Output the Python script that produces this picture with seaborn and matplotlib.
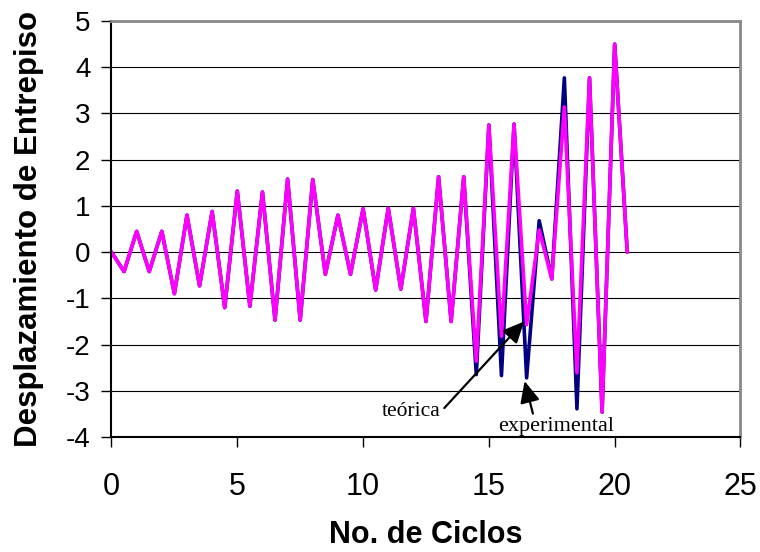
import numpy as np
import pandas as pd
import seaborn as sns
import matplotlib.pyplot as plt

# ciclos (half-cycle steps)
ciclos = [0, 0.5, 1, 1.5, 2, 2.5, 3, 3.5, 4, 4.5, 5, 5.5, 6, 6.5, 7, 7.5, 8, 8.5,
          9, 9.5, 10, 10.5, 11, 11.5, 12, 12.5, 13, 13.5, 14, 14.5, 15, 15.5, 16,
          16.5, 17, 17.5, 18, 18.5, 19, 19.5, 20, 20.5]

teorica = [0, -0.42, 0.45, -0.42, 0.45, -0.9, 0.8, -0.73, 0.88, -1.2, 1.32, -1.17,
           1.3, -1.47, 1.58, -1.47, 1.57, -0.48, 0.8, -0.48, 0.94, -0.82, 0.95, -0.8,
           0.95, -1.5, 1.63, -1.5, 1.63, -2.36, 2.75, -1.82, 2.77, -1.57, 0.48, -0.58,
           3.14, -2.61, 3.77, -3.46, 4.5, 0]

experimental = [0, -0.42, 0.45, -0.42, 0.45, -0.9, 0.8, -0.73, 0.88, -1.2, 1.32, -1.17,
                1.3, -1.47, 1.58, -1.47, 1.57, -0.48, 0.8, -0.48, 0.94, -0.82, 0.95, -0.8,
                0.95, -1.5, 1.63, -1.5, 1.63, -2.65, 2.75, -2.67, 2.77, -2.72, 0.68, -0.58,
                3.77, -3.39, 3.77, -3.46, 4.5, 0]

x_ticks = [0, 5, 10, 15, 20, 25]
y_ticks = [-4, -3, -2, -1, 0, 1, 2, 3, 4, 5]


def main() -> None:
    df = pd.DataFrame({'ciclo': ciclos, 'teorica': teorica, 'experimental': experimental})

    sns.set_theme(style='white')
    plt.rcParams['font.family'] = ['Liberation Sans', 'DejaVu Sans']
    plt.rcParams['axes.unicode_minus'] = False
    plt.rcParams['text.color'] = 'black'
    plt.rcParams['axes.labelcolor'] = 'black'
    plt.rcParams['xtick.color'] = 'black'
    plt.rcParams['ytick.color'] = 'black'

    fig = plt.figure(figsize=(7.6, 5.52), dpi=100)
    ax = fig.add_axes([0.1467, 0.2083, 0.8276, 0.7536])

    sns.lineplot(data=df, x='ciclo', y='experimental', color='#000080', lw=2.6, ax=ax, legend=False)
    sns.lineplot(data=df, x='ciclo', y='teorica', color='#FF00FF', lw=2.6, ax=ax, legend=False)

    ax.set_xlim(0, 25)
    ax.set_ylim(-4, 5)
    ax.set_xticks(x_ticks)
    ax.set_yticks(y_ticks)
    ax.set_axisbelow(True)
    ax.yaxis.grid(True, color='black', lw=0.8)
    ax.xaxis.grid(False)

    for side in ['left', 'bottom']:
        ax.spines[side].set_color('black')
        ax.spines[side].set_linewidth(1.5)
    for side in ['top', 'right']:
        ax.spines[side].set_color('#888888')
        ax.spines[side].set_linewidth(2)

    ax.tick_params(axis='y', direction='out', length=7.2, width=1, color='black',
                   pad=8, labelsize=20, left=True)
    ax.tick_params(axis='x', direction='out', length=7.2, width=1, color='black',
                   pad=18, labelsize=22, bottom=True)

    ax.set_xlabel('No. de Ciclos', fontsize=22, fontweight='bold')
    ax.set_ylabel('Desplazamiento de Entrepiso', fontsize=22.5, fontweight='bold')
    ax.xaxis.set_label_coords(0.5, -0.2)
    ax.yaxis.set_label_coords(-0.107, 0.5)

    # arrows pointing to each curve
    head = '-|>,head_length=0.65,head_width=0.3'
    ax.annotate('teórica', xy=(16.4, -1.5), xytext=(11.93, -3.45),
                ha='center', va='center', fontsize=15.5, family='Liberation Serif',
                arrowprops=dict(arrowstyle=head, color='black', lw=1.6,
                                mutation_scale=20, relpos=(1, 0.5), shrinkA=0, shrinkB=0))
    ax.annotate('experimental', xy=(16.42, -2.79), xytext=(17.66, -3.77),
                ha='center', va='center', fontsize=16, family='Liberation Serif',
                arrowprops=dict(arrowstyle=head, color='black', lw=1.6,
                                mutation_scale=20, relpos=(0.31, 1), shrinkA=0, shrinkB=0))

    plt.savefig('out.png', dpi=100)


if __name__ == "__main__":
    main()
